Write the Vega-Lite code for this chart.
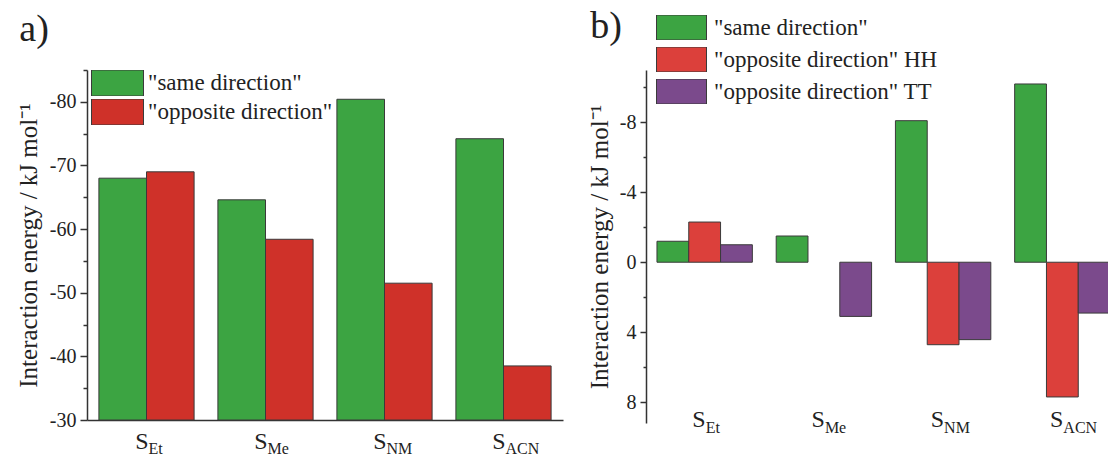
{
  "$schema": "https://vega.github.io/schema/vega-lite/v6.json",
  "background": "white",
  "padding": {"left": 16, "top": 8, "right": 0, "bottom": 0},
  "autosize": {"type": "pad"},
  "spacing": 24,
  "resolve": {
    "scale": {"x": "independent", "y": "independent", "xOffset": "independent", "color": "independent"},
    "legend": {"color": "independent"}
  },
  "config": {
    "font": "Liberation Serif",
    "view": {"stroke": null},
    "axis": {"labelFont": "Liberation Serif", "titleFont": "Liberation Serif", "labelColor": "#222", "titleColor": "#222", "titleFontWeight": "normal", "grid": false, "labelOverlap": false},
    "legend": {"labelFont": "Liberation Serif", "labelColor": "#222"},
    "title": {"font": "Liberation Serif", "fontWeight": "normal", "color": "#222"}
  },
  "datasets": {
    "pairs": [
      {"solvent": "Et", "orientation": "\"same direction\"", "energy": -68.0},
      {"solvent": "Et", "orientation": "\"opposite direction\"", "energy": -69.0},
      {"solvent": "Me", "orientation": "\"same direction\"", "energy": -64.6},
      {"solvent": "Me", "orientation": "\"opposite direction\"", "energy": -58.4},
      {"solvent": "NM", "orientation": "\"same direction\"", "energy": -80.4},
      {"solvent": "NM", "orientation": "\"opposite direction\"", "energy": -51.5},
      {"solvent": "ACN", "orientation": "\"same direction\"", "energy": -74.2},
      {"solvent": "ACN", "orientation": "\"opposite direction\"", "energy": -38.5}
    ],
    "differences": [
      {"solvent": "Et", "orientation": "\"same direction\"", "energy": -1.2},
      {"solvent": "Et", "orientation": "\"opposite direction\" HH", "energy": -2.3},
      {"solvent": "Et", "orientation": "\"opposite direction\" TT", "energy": -1.0},
      {"solvent": "Me", "orientation": "\"same direction\"", "energy": -1.5},
      {"solvent": "Me", "orientation": "\"opposite direction\" TT", "energy": 3.1},
      {"solvent": "NM", "orientation": "\"same direction\"", "energy": -8.1},
      {"solvent": "NM", "orientation": "\"opposite direction\" HH", "energy": 4.72},
      {"solvent": "NM", "orientation": "\"opposite direction\" TT", "energy": 4.43},
      {"solvent": "ACN", "orientation": "\"same direction\"", "energy": -10.2},
      {"solvent": "ACN", "orientation": "\"opposite direction\" HH", "energy": 7.71},
      {"solvent": "ACN", "orientation": "\"opposite direction\" TT", "energy": 2.91}
    ]
  },
  "hconcat": [
    {
      "width": 476,
      "height": 350,
      "title": {"text": "a)", "anchor": "start", "frame": "bounds", "fontSize": 38, "offset": 20, "dx": 3, "font": "Liberation Serif"},
      "data": {"name": "pairs"},
      "resolve": {"axis": {"y": "independent"}},
      "encoding": {
        "x": {
          "field": "solvent", "type": "nominal", "sort": ["Et", "Me", "NM", "ACN"],
          "scale": {"paddingInner": 0.2, "paddingOuter": 0.1},
          "axis": {"title": null, "labels": false, "ticks": false, "domainColor": "#333", "domainWidth": 1.5}
        }
      },
      "layer": [
        {
          "mark": {"type": "bar", "stroke": "#3a3a3a", "strokeWidth": 1},
          "encoding": {
            "xOffset": {"field": "orientation", "type": "nominal", "sort": ["\"same direction\"", "\"opposite direction\""]},
            "y": {
              "field": "energy", "type": "quantitative",
              "scale": {"domain": [-85, -30], "reverse": true, "nice": false, "zero": false},
              "axis": {
                "orient": "left",
                "title": "Interaction energy / kJ mol⁻¹",
                "titleFont": "Liberation Serif", "titleFontSize": 25, "titlePadding": 8,
                "values": [-80, -70, -60, -50, -40, -30],
                "labelExpr": "'' + datum.value",
                "labelFont": "Liberation Serif", "labelFontSize": 20, "labelPadding": 4,
                "tickSize": 7, "tickColor": "#333", "tickWidth": 1.5,
                "domainColor": "#333", "domainWidth": 1.5
              }
            },
            "y2": {"datum": -30},
            "color": {
              "field": "orientation", "type": "nominal",
              "scale": {"domain": ["\"same direction\"", "\"opposite direction\""], "range": ["#3ca442", "#cf3129"]},
              "legend": {
                "title": null, "orient": "none", "legendX": 4, "legendY": 0,
                "symbolType": "M-1,-0.5H1V0.5H-1Z", "symbolSize": 2704,
                "symbolStrokeColor": "#3a3a3a", "symbolStrokeWidth": 1, "symbolOpacity": 1,
                "clipHeight": 26,
                "labelFont": "Liberation Serif", "labelFontSize": 23, "labelOffset": 4, "rowPadding": 3, "labelLimit": 400
              }
            }
          }
        },
        {
          "transform": [{"filter": "datum.orientation === '\"same direction\"'"}],
          "mark": {"type": "text", "text": "S", "align": "right", "baseline": "alphabetic", "font": "Liberation Serif", "fontSize": 24, "dx": 2, "dy": 29, "color": "#222"},
          "encoding": {
            "y": {
              "datum": -30, "type": "quantitative",
              "axis": {
                "orient": "left", "title": null, "labels": false, "domain": false,
                "values": [-85, -75, -65, -55, -45, -35],
                "tickSize": 4, "tickColor": "#333", "tickWidth": 1.5
              }
            }
          }
        },
        {
          "transform": [{"filter": "datum.orientation === '\"same direction\"'"}],
          "mark": {"type": "text", "align": "left", "baseline": "alphabetic", "font": "Liberation Serif", "fontSize": 16, "dx": 2, "dy": 34, "color": "#222"},
          "encoding": {"y": {"datum": -30, "type": "quantitative", "axis": null}, "text": {"field": "solvent"}}
        }
      ]
    },
    {
      "width": 465,
      "height": 353,
      "title": {"text": "b)", "anchor": "start", "frame": "bounds", "fontSize": 38, "offset": 0, "dy": 31, "dx": 3, "font": "Liberation Serif"},
      "data": {"name": "differences"},
      "resolve": {"axis": {"y": "independent"}},
      "encoding": {
        "x": {
          "field": "solvent", "type": "nominal", "sort": ["Et", "Me", "NM", "ACN"],
          "scale": {"paddingInner": 0.2, "paddingOuter": 0.05, "align": 0.92},
          "axis": {"title": null, "labels": false, "ticks": false, "domain": false}
        }
      },
      "layer": [
        {
          "mark": {"type": "bar", "stroke": "#3a3a3a", "strokeWidth": 1},
          "encoding": {
            "xOffset": {"field": "orientation", "type": "nominal", "sort": ["\"same direction\"", "\"opposite direction\" HH", "\"opposite direction\" TT"]},
            "y": {
              "field": "energy", "type": "quantitative",
              "scale": {"domain": [-11, 9.2], "reverse": true, "nice": false, "zero": false},
              "axis": {
                "orient": "left",
                "title": "Interaction energy / kJ mol⁻¹",
                "titleFont": "Liberation Serif", "titleFontSize": 25, "titlePadding": 7,
                "values": [-8, -4, 0, 4, 8],
                "labelExpr": "'' + datum.value",
                "labelFont": "Liberation Serif", "labelFontSize": 20, "labelPadding": 4,
                "tickSize": 6, "tickColor": "#333", "tickWidth": 1.5,
                "domainColor": "#333", "domainWidth": 1.5
              }
            },
            "color": {
              "field": "orientation", "type": "nominal",
              "scale": {"domain": ["\"same direction\"", "\"opposite direction\" HH", "\"opposite direction\" TT"], "range": ["#3ca442", "#dc403b", "#7b4a8c"]},
              "legend": {
                "title": null, "orient": "none", "legendX": 10, "legendY": -55,
                "symbolType": "M-1,-0.5H1V0.5H-1Z", "symbolSize": 2500,
                "symbolStrokeColor": "#3a3a3a", "symbolStrokeWidth": 1, "symbolOpacity": 1,
                "clipHeight": 25,
                "labelFont": "Liberation Serif", "labelFontSize": 23, "labelOffset": 7, "rowPadding": 7, "labelLimit": 400
              }
            }
          }
        },
        {
          "mark": {"type": "rule", "color": "#555", "strokeWidth": 1.5},
          "encoding": {"y": {"datum": 0, "type": "quantitative", "axis": null}}
        },
        {
          "transform": [{"filter": "datum.orientation === '\"same direction\"'"}],
          "mark": {"type": "text", "text": "S", "align": "right", "baseline": "alphabetic", "font": "Liberation Serif", "fontSize": 24, "dx": 1, "dy": 4, "color": "#222"},
          "encoding": {
            "y": {
              "datum": 9.2, "type": "quantitative",
              "axis": {
                "orient": "left", "title": null, "labels": false, "domain": false,
                "values": [-10, -6, -2, 2, 6],
                "tickSize": 3, "tickColor": "#333", "tickWidth": 1.5
              }
            }
          }
        },
        {
          "transform": [{"filter": "datum.orientation === '\"same direction\"'"}],
          "mark": {"type": "text", "align": "left", "baseline": "alphabetic", "font": "Liberation Serif", "fontSize": 16, "dx": 1, "dy": 10, "color": "#222"},
          "encoding": {"y": {"datum": 9.2, "type": "quantitative", "axis": null}, "text": {"field": "solvent"}}
        }
      ]
    }
  ]
}
